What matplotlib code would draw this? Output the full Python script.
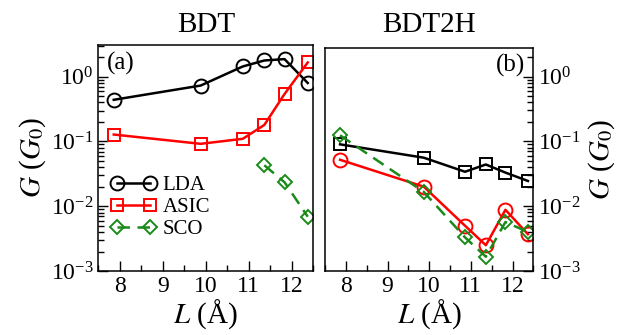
import matplotlib
matplotlib.use("Agg")
import matplotlib.pyplot as plt
from matplotlib.ticker import LogLocator, MultipleLocator

plt.rcParams['font.family'] = ['Liberation Serif', 'DejaVu Serif']
plt.rcParams['mathtext.fontset'] = 'stix'

# panel (a) BDT
L_a = [7.86, 9.88, 10.86, 11.36, 11.83, 12.37]
lda_a = [0.44, 0.73, 1.44, 1.78, 1.87, 0.80]
asic_a = [0.128, 0.092, 0.11, 0.18, 0.54, 1.66]
L_sco_a = [11.36, 11.83, 12.37]
sco_a = [0.043, 0.0235, 0.0069]

# panel (b) BDT2H
L_b = [7.86, 9.87, 10.86, 11.36, 11.83, 12.37]
lda_b = [0.090, 0.056, 0.034, 0.044, 0.033, 0.0245]
asic_b = [0.052, 0.020, 0.0050, 0.0025, 0.0088, 0.0037]
sco_b = [0.124, 0.0166, 0.0033, 0.00166, 0.0057, 0.0040]

fig = plt.figure(figsize=(6.18, 3.35), dpi=100)
ax1 = fig.add_axes([0.159, 0.191, 0.348, 0.675])
ax2 = fig.add_axes([0.526, 0.191, 0.337, 0.667])

green = '#1a8a1a'
kw = dict(markerfacecolor='none', linewidth=1.8, markeredgewidth=1.4)

ax1.plot(L_a, lda_a, '-o', color='black', markersize=10, label='LDA', **kw)
ax1.plot(L_a, asic_a, '-s', color='red', markersize=9, label='ASIC', **kw)
ax1.plot(L_sco_a, sco_a, '--D', color=green, markersize=7.5, dashes=(5, 3), label='SCO', **kw)

ax2.plot(L_b, lda_b, '-s', color='black', markersize=9, **kw)
ax2.plot(L_b, asic_b, '-o', color='red', markersize=10, **kw)
ax2.plot(L_b, sco_b, '--D', color=green, markersize=7.5, dashes=(5, 3), **kw)

for ax, top in ((ax1, 3.1), (ax2, 2.8)):
    ax.set_yscale('log')
    ax.set_ylim(1e-3, top)
    ax.set_xlim(7.5, 12.5)
    ax.xaxis.set_major_locator(MultipleLocator(1))
    ax.xaxis.set_minor_locator(MultipleLocator(0.5))
    ax.yaxis.set_major_locator(LogLocator(base=10, numticks=10))
    ax.yaxis.set_minor_locator(LogLocator(base=10, subs=range(2, 10), numticks=10))
    ax.tick_params(which='both', direction='in', labelsize=17)
    ax.tick_params(which='major', length=7, width=1)
    ax.tick_params(which='minor', length=4, width=1)
    ax.set_xlabel(r'$L$ (Å)', fontsize=21, labelpad=0)
    for s in ax.spines.values():
        s.set_linewidth(1.1)

ax1.tick_params(which='both', top=False, right=False)
ax1.set_ylabel(r'$G$ ($G_0$)', fontsize=21, labelpad=2)
ax1.set_title('BDT', fontsize=21, pad=9)
ax1.text(0.04, 0.97, '(a)', transform=ax1.transAxes, fontsize=18, va='top', ha='left')
ax1.legend(loc='lower left', bbox_to_anchor=(0.0, 0.085), numpoints=2, frameon=False,
           fontsize=15, handlelength=2.2, handletextpad=0.3, labelspacing=0.12,
           borderaxespad=0.2)

ax2.yaxis.tick_right()
ax2.yaxis.set_label_position('right')
ax2.tick_params(which='both', left=False, top=False, right=True)
ax2.set_ylabel(r'$G$ ($G_0$)', fontsize=21, rotation=90, labelpad=4)
ax2.set_title('BDT2H', fontsize=21, pad=11)
ax2.text(0.96, 0.97, '(b)', transform=ax2.transAxes, fontsize=18, va='top', ha='right')

fig.savefig('out.png', dpi=100)
